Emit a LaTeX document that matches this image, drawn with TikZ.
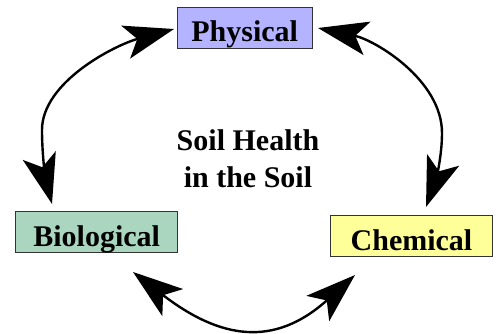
\documentclass[tikz,border=0pt]{standalone}
\usepackage{fontspec}
\setmainfont{Liberation Serif}
\usetikzlibrary{arrows.meta}
\definecolor{physc}{RGB}{179,179,255}
\definecolor{bioc}{RGB}{170,214,192}
\definecolor{chemc}{RGB}{255,255,153}
\begin{document}
\begin{tikzpicture}[x=1pt,y=-1pt,
  box/.style={draw=black!80, line width=0.9pt, inner sep=0pt, minimum width=#1,
    text height=34.5pt, text depth=6.5pt, font=\fontsize{30}{35}\selectfont\bfseries},
  link/.style={line width=2.4pt, {Stealth[length=50pt,width=34pt,inset=12pt]}-{Stealth[length=50pt,width=34pt,inset=12pt]}},
  title/.style={align=center, inner sep=0pt, font=\fontsize{30}{37}\selectfont\bfseries}
]
\useasboundingbox (0,0) rectangle (500,333);
\node[box=134.7pt, fill=physc] (phys) at (244.7,27.8) {Physical};
\node[box=162pt, fill=bioc] (bio) at (96.7,232.2) {Biological};
\node[box=162.4pt, fill=chemc] (chem) at (411.5,236.4) {Chemical};
\node[title] (ttl) at (248,158.4) {Soil Health\\in the Soil};
% arrow end points
\coordinate (pw) at (174,29);
\coordinate (bn) at (52,204);
\coordinate (lm) at (42,130);
\coordinate (pe) at (318,28);
\coordinate (cn) at (426,207);
\coordinate (rm) at (442,133);
\coordinate (be) at (133,272);
\coordinate (cw) at (355,275);
\draw[link] (pw) .. controls (115,45) and (42,82) .. (lm) .. controls (42,160) and (47,185) .. (bn);
\draw[link] (pe) .. controls (375,40) and (442,80) .. (rm) .. controls (442,160) and (434,185) .. (cn);
\draw[link] (be) .. controls (220,339) and (274,348) .. (cw);
\end{tikzpicture}
\end{document}
